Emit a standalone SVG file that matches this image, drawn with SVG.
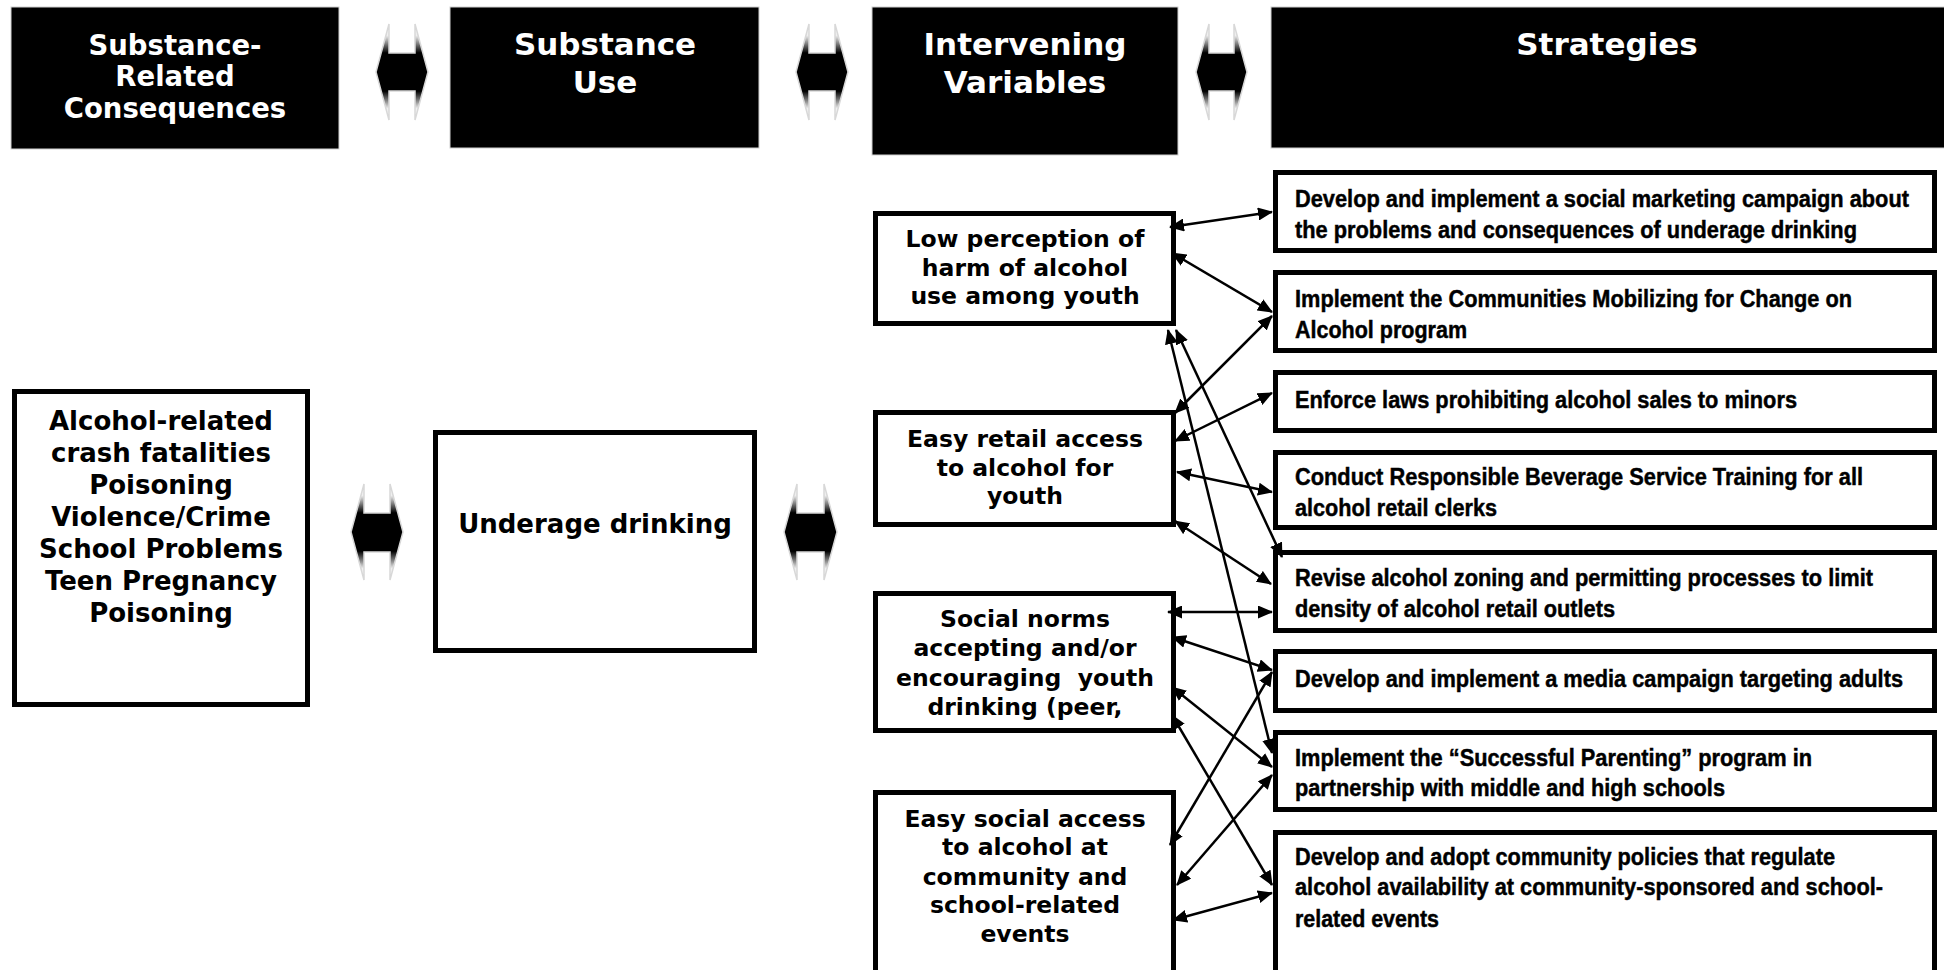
<svg xmlns="http://www.w3.org/2000/svg" width="1944" height="970" viewBox="0 0 1944 970">
<style>
.hdr{fill:#000;stroke:#d0d0d0;stroke-width:1}
.ht{font-family:"DejaVu Sans",Verdana,sans-serif;font-weight:bold;font-size:31px;fill:#fff;text-anchor:middle}
.ht1{font-family:"DejaVu Sans",Verdana,sans-serif;font-weight:bold;font-size:27.5px;fill:#fff;text-anchor:middle}
.box{fill:#fff;stroke:#000;stroke-width:5}
.bt{font-family:"DejaVu Sans",Verdana,sans-serif;font-weight:bold;font-size:26px;fill:#000;text-anchor:middle}
.it{font-family:"DejaVu Sans",Verdana,sans-serif;font-weight:bold;font-size:23.5px;fill:#000;text-anchor:middle}
.st{font-family:"Liberation Sans",Arial,sans-serif;font-weight:bold;font-size:23px;fill:#000;stroke:#000;stroke-width:0.45}
.blk{fill:url(#fade);stroke:#d8d8d8;stroke-width:1.5}
.con line{stroke:#000;stroke-width:2.5;marker-start:url(#ah);marker-end:url(#ah)}
</style>
<defs>
<linearGradient id="fade" x1="0" y1="0" x2="0" y2="1">
<stop offset="0" stop-color="#ffffff"/>
<stop offset="0.12" stop-color="#eeeeee"/>
<stop offset="0.3" stop-color="#000000"/>
<stop offset="0.7" stop-color="#000000"/>
<stop offset="0.88" stop-color="#eeeeee"/>
<stop offset="1" stop-color="#ffffff"/>
</linearGradient>
<marker id="ah" viewBox="0 0 15 13" refX="14" refY="6.5" markerWidth="15" markerHeight="13" markerUnits="userSpaceOnUse" orient="auto-start-reverse">
<path d="M0,0 L15,6.5 L0,13 z" fill="#000"/>
</marker>
</defs>
<rect width="1944" height="970" fill="#fff"/>

<g id="hdr-consequences">
<rect class="hdr" x="11" y="7" width="328" height="142"/>
<text class="ht1" x="175" y="55">Substance-</text>
<text class="ht1" x="175" y="86">Related</text>
<text class="ht1" x="175" y="118">Consequences</text>
</g>
<g id="hdr-use">
<rect class="hdr" x="450" y="7" width="309" height="141"/>
<text class="ht" x="605" y="55">Substance</text>
<text class="ht" x="605" y="93">Use</text>
</g>
<g id="hdr-intervening">
<rect class="hdr" x="872" y="7" width="306" height="148"/>
<text class="ht" x="1025" y="55">Intervening</text>
<text class="ht" x="1025" y="93">Variables</text>
</g>
<g id="hdr-strategies">
<rect class="hdr" x="1271" y="7" width="680" height="141"/>
<text class="ht" x="1607" y="55">Strategies</text>
</g>

<g id="harrow-1"><polygon class="blk" points="376,72 389,24 389,53 415,53 415,24 428,72 415,120 415,91 389,91 389,120"/></g>
<g id="harrow-2"><polygon class="blk" points="796,72 809,24 809,53 835,53 835,24 848,72 835,120 835,91 809,91 809,120"/></g>
<g id="harrow-3"><polygon class="blk" points="1196,72 1209,24 1209,53 1234,53 1234,24 1247,72 1234,120 1234,91 1209,91 1209,120"/></g>
<g id="barrow-1"><polygon class="blk" points="351,532 364,484 364,513 390,513 390,484 403,532 390,580 390,552 364,552 364,580"/></g>
<g id="barrow-2"><polygon class="blk" points="784,532 797,484 797,513 824,513 824,484 837,532 824,580 824,552 797,552 797,580"/></g>

<g id="consequences">
<rect class="box" x="14.5" y="391.5" width="293" height="313"/>
<text class="bt" x="161" y="430">Alcohol-related</text>
<text class="bt" x="161" y="462">crash fatalities</text>
<text class="bt" x="161" y="494">Poisoning</text>
<text class="bt" x="161" y="526">Violence/Crime</text>
<text class="bt" x="161" y="558">School Problems</text>
<text class="bt" x="161" y="590">Teen Pregnancy</text>
<text class="bt" x="161" y="622">Poisoning</text>
</g>
<g id="underage">
<rect class="box" x="435.5" y="432.5" width="319" height="218"/>
<text class="bt" x="595" y="533">Underage drinking</text>
</g>

<g id="iv-perception">
<rect class="box" x="875.5" y="213.5" width="298" height="110"/>
<text class="it" x="1025" y="247">Low perception of</text>
<text class="it" x="1025" y="275.5">harm of alcohol</text>
<text class="it" x="1025" y="304">use among youth</text>
</g>
<g id="iv-retail">
<rect class="box" x="875.5" y="412.5" width="298" height="112"/>
<text class="it" x="1025" y="447">Easy retail access</text>
<text class="it" x="1025" y="476">to alcohol for</text>
<text class="it" x="1025" y="504">youth</text>
</g>
<g id="iv-norms">
<rect class="box" x="875.5" y="593.5" width="298" height="137"/>
<text class="it" x="1025" y="627">Social norms</text>
<text class="it" x="1025" y="656">accepting and/or</text>
<text class="it" x="1025" y="686" xml:space="preserve">encouraging  youth</text>
<text class="it" x="1025" y="715">drinking (peer,</text>
</g>
<g id="iv-social">
<rect class="box" x="875.5" y="792.5" width="298" height="185"/>
<text class="it" x="1025" y="827">Easy social access</text>
<text class="it" x="1025" y="855">to alcohol at</text>
<text class="it" x="1025" y="885">community and</text>
<text class="it" x="1025" y="913">school-related</text>
<text class="it" x="1025" y="942">events</text>
</g>

<g id="s1">
<rect class="box" x="1275.5" y="172.5" width="659" height="78"/>
<text class="st" x="1295" y="207" textLength="614" lengthAdjust="spacingAndGlyphs">Develop and implement a social marketing campaign about</text>
<text class="st" x="1295" y="238" textLength="562" lengthAdjust="spacingAndGlyphs">the problems and consequences of underage drinking</text>
</g>
<g id="s2">
<rect class="box" x="1275.5" y="272.5" width="659" height="78"/>
<text class="st" x="1295" y="307" textLength="557" lengthAdjust="spacingAndGlyphs">Implement the Communities Mobilizing for Change on</text>
<text class="st" x="1295" y="338" textLength="172" lengthAdjust="spacingAndGlyphs">Alcohol program</text>
</g>
<g id="s3">
<rect class="box" x="1275.5" y="372.5" width="659" height="58"/>
<text class="st" x="1295" y="408" textLength="502" lengthAdjust="spacingAndGlyphs">Enforce laws prohibiting alcohol sales to minors</text>
</g>
<g id="s4">
<rect class="box" x="1275.5" y="452.5" width="659" height="75"/>
<text class="st" x="1295" y="485" textLength="568" lengthAdjust="spacingAndGlyphs">Conduct Responsible Beverage Service Training for all</text>
<text class="st" x="1295" y="516" textLength="202" lengthAdjust="spacingAndGlyphs">alcohol retail clerks</text>
</g>
<g id="s5">
<rect class="box" x="1275.5" y="552.5" width="659" height="78"/>
<text class="st" x="1295" y="586" textLength="578" lengthAdjust="spacingAndGlyphs">Revise alcohol zoning and permitting processes to limit</text>
<text class="st" x="1295" y="617" textLength="320" lengthAdjust="spacingAndGlyphs">density of alcohol retail outlets</text>
</g>
<g id="s6">
<rect class="box" x="1275.5" y="651.5" width="659" height="59"/>
<text class="st" x="1295" y="687" textLength="608" lengthAdjust="spacingAndGlyphs">Develop and implement a media campaign targeting adults</text>
</g>
<g id="s7">
<rect class="box" x="1275.5" y="732.5" width="659" height="77"/>
<text class="st" x="1295" y="766" textLength="517" lengthAdjust="spacingAndGlyphs">Implement the “Successful Parenting” program in</text>
<text class="st" x="1295" y="796" textLength="430" lengthAdjust="spacingAndGlyphs">partnership with middle and high schools</text>
</g>
<g id="s8">
<rect class="box" x="1275.5" y="832.5" width="659" height="150"/>
<text class="st" x="1295" y="865" textLength="540" lengthAdjust="spacingAndGlyphs">Develop and adopt community policies that regulate</text>
<text class="st" x="1295" y="895" textLength="588" lengthAdjust="spacingAndGlyphs">alcohol availability at community-sponsored and school-</text>
<text class="st" x="1295" y="927" textLength="144" lengthAdjust="spacingAndGlyphs">related events</text>
</g>

<g id="connectors" class="con">
<line x1="1170" y1="227" x2="1272" y2="212"/>
<line x1="1172" y1="253" x2="1272" y2="312"/>
<line x1="1175" y1="413" x2="1272" y2="316"/>
<line x1="1175" y1="441" x2="1272" y2="393"/>
<line x1="1177" y1="472" x2="1272" y2="492"/>
<line x1="1175" y1="521" x2="1271" y2="584"/>
<line x1="1176" y1="330" x2="1282" y2="557"/>
<line x1="1168" y1="330" x2="1272" y2="753"/>
<line x1="1168" y1="612" x2="1272" y2="612"/>
<line x1="1172" y1="637" x2="1272" y2="670"/>
<line x1="1172" y1="687" x2="1272" y2="767"/>
<line x1="1172" y1="715" x2="1272" y2="885"/>
<line x1="1170" y1="845" x2="1272" y2="672"/>
<line x1="1177" y1="885" x2="1272" y2="775"/>
<line x1="1173" y1="920" x2="1272" y2="893"/>
</g>
</svg>
